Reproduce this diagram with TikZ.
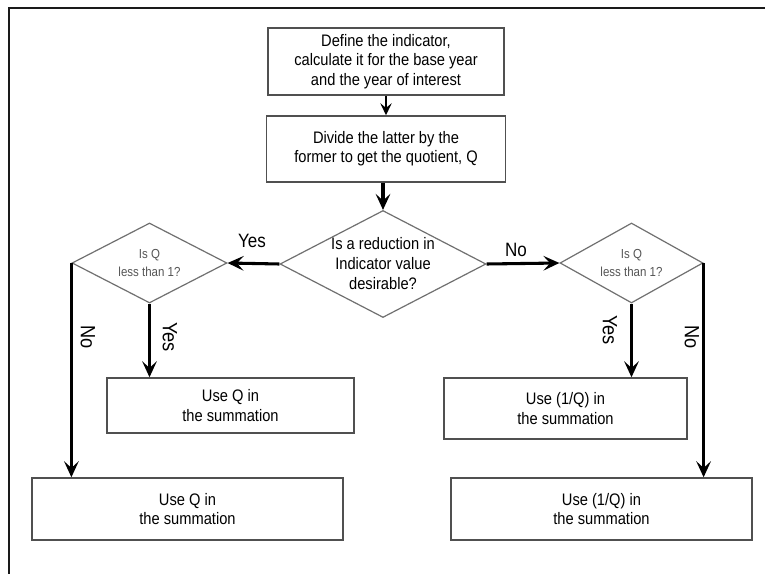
\documentclass[tikz,border=0pt]{standalone}
\usepackage{fontspec}
\setmainfont[FakeStretch=0.88]{Liberation Sans}
\usetikzlibrary{shapes.geometric,arrows.meta}
\definecolor{boxgray}{HTML}{505050}
\definecolor{diagray}{HTML}{707070}
\definecolor{smalltext}{HTML}{555555}
\definecolor{framecol}{HTML}{1A1A1A}
\begin{document}
\begin{tikzpicture}[x=0.75pt,y=-0.75pt,
  stepbox/.style={draw=boxgray, line width=1.1pt, rectangle, inner sep=0pt,
    align=center, font=\fontsize{12.5}{14.5}\selectfont},
  decide/.style={draw=diagray, line width=0.9pt, diamond, inner sep=0pt},
  smallq/.style={align=center, text=smalltext, font=\fontsize{9.8}{12.8}\selectfont},
  bigq/.style={align=center, font=\fontsize{12.5}{15}\selectfont},
  flow/.style={line width=2.3pt, -{Stealth[length=12pt,width=11pt,inset=5pt]}},
  thinflow/.style={line width=1.6pt, -{Stealth[length=9pt,width=8.5pt,inset=3.5pt]}},
  hlab/.style={font=\fontsize{14.5}{16}\selectfont},
  vlab/.style={font=\fontsize{15.5}{17}\selectfont, rotate=-90}
]
\useasboundingbox (0,0) rectangle (765,574);
\fill[white] (0,0) rectangle (765,574);
% outer frame
\draw[framecol, line width=2pt] (9,574) -- (9,8) -- (765,8);

% boxes
\node[stepbox, minimum width=177pt, minimum height=50.25pt] (b1) at (386,61.5)
  {Define the indicator,\\calculate it for the base year\\and the year of interest};
\node[stepbox, minimum width=179pt, minimum height=49.5pt] (b2) at (386,149)
  {Divide the latter by the\\former to get the quotient, Q};
\node[stepbox, minimum width=185.25pt, minimum height=41.25pt] (b3) at (230.5,405.5)
  {Use Q in\\the summation};
\node[stepbox, minimum width=182.25pt, minimum height=45.75pt] (b4) at (565.5,408.5)
  {Use (1/Q) in\\the summation};
\node[stepbox, minimum width=233.25pt, minimum height=46.5pt] (b5) at (187.5,509)
  {Use Q in\\the summation};
\node[stepbox, minimum width=225.75pt, minimum height=46.5pt] (b6) at (601.5,509)
  {Use (1/Q) in\\the summation};

% diamonds
\node[decide, minimum width=154.5pt, minimum height=80.25pt,
  label={[bigq]center:Is a reduction in\\Indicator value\\desirable?}] (dc) at (383,264) {};
\node[decide, minimum width=116.25pt, minimum height=60pt,
  label={[smallq]center:Is Q\\less than 1?}] (dl) at (149.5,263) {};
\node[decide, minimum width=107.25pt, minimum height=60pt,
  label={[smallq]center:Is Q\\less than 1?}] (dr) at (631.5,263) {};

% connectors
\draw[thinflow] (b1.south) -- (b2.north);
\draw[flow] (b2.south -| dc.north) -- (dc.north);
\draw[flow] (dc.west) -- (dl.east);
\draw[flow] (dc.east) -- (dr.west);
\draw[flow] (dl.south) -- (dl.south |- b3.north);
\draw[flow] (dl.west) -- (dl.west |- b5.north);
\draw[flow] (dr.south) -- (dr.south |- b4.north);
\draw[flow] (dr.east) -- (dr.east |- b6.north);

% labels
\node[hlab] (lyes) at (252,241) {Yes};
\node[hlab] (lno) at (516,250) {No};
\node[vlab] (vno1) at (88,337) {No};
\node[vlab] (vyes1) at (170,337) {Yes};
\node[vlab] (vyes2) at (610,330) {Yes};
\node[vlab] (vno2) at (692,337) {No};
\end{tikzpicture}
\end{document}
